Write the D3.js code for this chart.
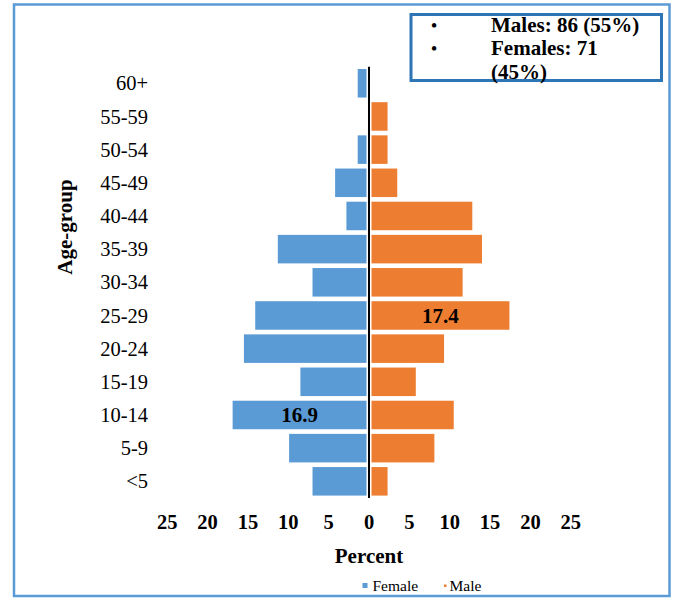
<!DOCTYPE html>
<html>
<head>
<meta charset="utf-8">
<script src="https://cdn.jsdelivr.net/npm/d3@7"></script>
<style>
  html, body { margin: 0; padding: 0; background: #fff; }
  svg text { font-family: "Liberation Serif", "Times New Roman", Times, serif; }
</style>
</head>
<body>
<svg id="chart" width="675" height="599"></svg>
<script>
// ---- Data (percent of each sex, top to bottom) ----
const ageGroups = ["60+", "55-59", "50-54", "45-49", "40-44", "35-39", "30-34",
                   "25-29", "20-24", "15-19", "10-14", "5-9", "<5"];
const female = [1.4, 0, 1.4, 4.2, 2.8, 11.3, 7.0, 14.1, 15.5, 8.5, 16.9, 9.9, 7.0];
const male   = [0, 2.3, 2.3, 3.5, 12.8, 14.0, 11.6, 17.4, 9.3, 5.8, 10.5, 8.1, 2.3];
const xTicks = [-25, -20, -15, -10, -5, 0, 5, 10, 15, 20, 25];
const labelledFemale = "10-14";
const labelledMale = "25-29";
const summaryLines = [["•", "Males: 86 (55%)"], ["•", "Females: 71"], ["", "(45%)"]];
const seriesNames = ["Female", "Male"];

const COL_F = "#5b9bd5", COL_M = "#ed7d31";
const FONT = "'Liberation Serif', 'Times New Roman', Times, serif";

const svg = d3.select("#chart");
const root = svg.append("g").attr("font-family", FONT);

// outer frame
root.append("rect").attr("x", 14).attr("y", 4.5).attr("width", 655.5).attr("height", 591.5)
  .attr("fill", "none").attr("stroke", "#5b9bd5").attr("stroke-width", 2.5);

const x = d3.scaleLinear().domain([-25, 25]).range([167.25, 570.75]);
const y = d3.scaleBand().domain(ageGroups).range([66.7, 497.9]).paddingInner(0.14).paddingOuter(0.07);

const rows = ageGroups.map((g, i) => ({ g, f: female[i], m: male[i] }));
const gap = 2.5;

// female bars (left)
root.append("g").selectAll("rect").data(rows.filter(d => d.f > 0)).join("rect")
  .attr("x", d => x(-d.f))
  .attr("y", d => y(d.g))
  .attr("width", d => x(0) - x(-d.f) - gap)
  .attr("height", y.bandwidth())
  .attr("fill", COL_F);

// male bars (right)
root.append("g").selectAll("rect").data(rows.filter(d => d.m > 0)).join("rect")
  .attr("x", x(0) + gap)
  .attr("y", d => y(d.g))
  .attr("width", d => x(d.m) - x(0) - gap)
  .attr("height", y.bandwidth())
  .attr("fill", COL_M);

// zero line
root.append("line").attr("x1", x(0)).attr("x2", x(0))
  .attr("y1", y.range()[0]).attr("y2", y.range()[1])
  .attr("stroke", "#000").attr("stroke-width", 2);

function txt(sel) { return sel.append("text").attr("font-family", FONT).attr("fill", "#000"); }

// data labels
const lf = rows.find(d => d.g === labelledFemale);
txt(root).attr("x", (x(-lf.f) + x(0) - gap) / 2).attr("y", y(lf.g) + y.bandwidth() / 2)
  .attr("dy", "0.35em").attr("text-anchor", "middle").attr("font-weight", "bold")
  .attr("font-size", 21).text(lf.f.toFixed(1));
const lm = rows.find(d => d.g === labelledMale);
txt(root).attr("x", (x(lm.m) + x(0) + gap) / 2).attr("y", y(lm.g) + y.bandwidth() / 2)
  .attr("dy", "0.35em").attr("text-anchor", "middle").attr("font-weight", "bold")
  .attr("font-size", 21).text(lm.m.toFixed(1));

// y axis labels
root.append("g").selectAll("text").data(ageGroups).join("text")
  .attr("font-family", FONT)
  .attr("x", 148).attr("y", d => y(d) + y.bandwidth() / 2)
  .attr("dy", "0.35em").attr("text-anchor", "end").attr("font-size", 20.5)
  .attr("fill", "#000").text(d => d);

// x tick labels
root.append("g").selectAll("text").data(xTicks).join("text")
  .attr("font-family", FONT)
  .attr("x", d => x(d)).attr("y", 529)
  .attr("text-anchor", "middle").attr("font-size", 20.5).attr("font-weight", "bold")
  .text(d => Math.abs(d));

// axis titles
txt(root).attr("x", x(0)).attr("y", 563).attr("text-anchor", "middle")
  .attr("font-size", 21).attr("font-weight", "bold").text("Percent");
txt(root).attr("transform", "translate(72,227) rotate(-90)")
  .attr("text-anchor", "middle").attr("font-size", 21).attr("font-weight", "bold").text("Age-group");

// bottom legend
const leg = root.append("g");
leg.append("rect").attr("x", 362.5).attr("y", 583).attr("width", 5).attr("height", 5).attr("fill", COL_F);
txt(leg).attr("x", 372.5).attr("y", 591).attr("font-size", 15.5).text(seriesNames[0]);
leg.append("rect").attr("x", 444).attr("y", 584.5).attr("width", 2.5).attr("height", 2.5).attr("fill", COL_M);
txt(leg).attr("x", 449.5).attr("y", 591).attr("font-size", 15.5).text(seriesNames[1]);

// summary box
root.append("rect").attr("x", 411).attr("y", 14.5).attr("width", 250.5).attr("height", 66)
  .attr("fill", "#fff").attr("stroke", "#2e75b6").attr("stroke-width", 3);
const sb = root.append("g");
summaryLines.forEach((ln, i) => {
  const by = 31.5 + i * 23.7;
  if (ln[0]) txt(sb).attr("x", 434).attr("y", by).attr("text-anchor", "middle")
    .attr("font-size", 19).text(ln[0]);
  txt(sb).attr("x", 491).attr("y", by).attr("font-weight", "bold").attr("font-size", 21).text(ln[1]);
});
</script>
</body>
</html>
